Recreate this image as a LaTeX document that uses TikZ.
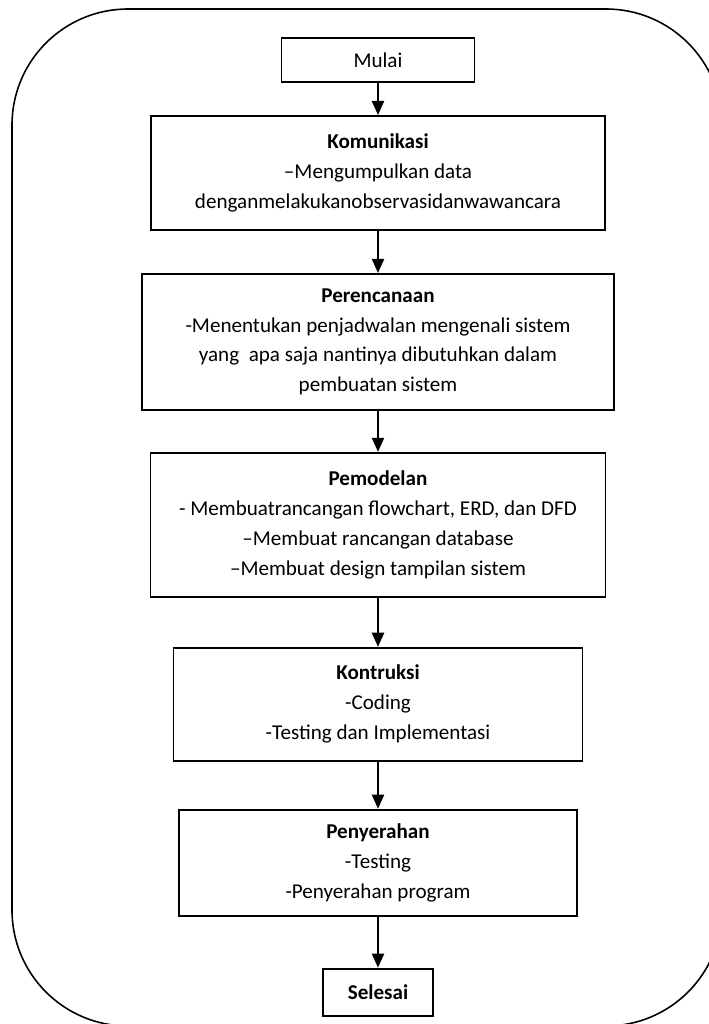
\documentclass[tikz,border=0pt]{standalone}
\usepackage{fontspec}
\setmainfont{Carlito}
\usetikzlibrary{positioning,arrows.meta}

\begin{document}
\begin{tikzpicture}[
		frame/.style={draw=black, line width=0.9pt, rounded corners=2.32cm},
		term/.style={rectangle, draw=black, line width=1.1pt, inner sep=0pt, align=center},
		proc/.style={rectangle, draw=black, line width=1.1pt, inner sep=0pt, align=center},
		line/.style={draw=black, line width=0.8pt, -{Triangle[width=7pt,length=8pt]}},
		font=\fontsize{12}{17}\selectfont,
		]
		\useasboundingbox (0,0) rectangle (14.18,-20.48);

		%Frame
		\draw[frame] (0.24,-0.18) rectangle (14.44,-20.52);

		%Main Nodes
		\node[term, minimum width=3.86cm, minimum height=0.88cm]	(mulai)	at (7.56,-1.2)	{Mulai};
		\node[proc, minimum width=9.08cm, minimum height=2.28cm]	(komunikasi)	[below=0.64cm of mulai]
			{\textbf{Komunikasi}\\–Mengumpulkan data\\denganmelakukanobservasidanwawancara};
		\node[proc, minimum width=9.44cm, minimum height=2.72cm]	(perencanaan)	[below=0.84cm of komunikasi]
			{\textbf{Perencanaan}\\-Menentukan penjadwalan mengenali sistem\\yang \ apa saja nantinya dibutuhkan dalam\\pembuatan sistem};
		\node[proc, minimum width=9.1cm, minimum height=2.88cm]	(pemodelan)	[below=0.82cm of perencanaan]
			{\textbf{Pemodelan}\\- Membuatrancangan flowchart, ERD, dan DFD\\–Membuat rancangan database\\–Membuat design tampilan sistem};
		\node[proc, minimum width=8.18cm, minimum height=2.26cm]	(kontruksi)	[below=0.98cm of pemodelan]
			{\textbf{Kontruksi}\\-Coding\\-Testing dan Implementasi};
		\node[proc, minimum width=7.96cm, minimum height=2.12cm]	(penyerahan)	[below=0.94cm of kontruksi]
			{\textbf{Penyerahan}\\-Testing\\-Penyerahan program};
		\node[term, minimum width=2.2cm, minimum height=0.94cm]	(selesai)	[below=1.02cm of penyerahan]	{\textbf{Selesai}};

		%Main Lines
		\draw[line]	(mulai)	--	(komunikasi);
		\draw[line]	(komunikasi)	--	(perencanaan);
		\draw[line]	(perencanaan)	--	(pemodelan);
		\draw[line]	(pemodelan)	--	(kontruksi);
		\draw[line]	(kontruksi)	--	(penyerahan);
		\draw[line]	(penyerahan)	--	(selesai);

	\end{tikzpicture}
\end{document}
